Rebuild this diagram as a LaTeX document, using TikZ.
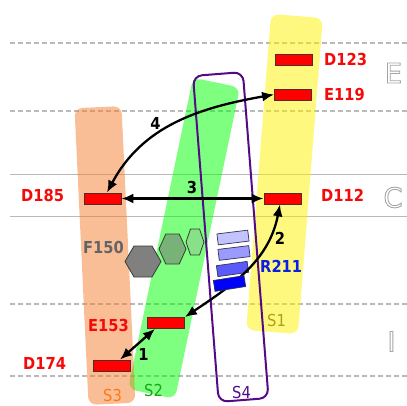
\documentclass[tikz,border=0pt]{standalone}
\usepackage{fontspec}
\setmainfont{DejaVu Sans}[FakeStretch=0.89]
\newfontfamily\bigfont{DejaVu Sans}
\usetikzlibrary{arrows.meta}
\definecolor{resred}{RGB}{255,0,0}
\definecolor{resdraw}{RGB}{90,40,40}
\definecolor{labred}{RGB}{245,10,10}
\definecolor{gridgray}{RGB}{185,185,185}
\definecolor{lettergray}{RGB}{165,165,165}
\definecolor{bandorange}{RGB}{245,125,45}
\definecolor{s1col}{RGB}{175,160,20}
\definecolor{s2col}{RGB}{25,165,25}
\definecolor{s3col}{RGB}{255,120,20}
\definecolor{s4col}{RGB}{85,10,135}
\definecolor{fcol}{RGB}{100,100,100}
\definecolor{rcol}{RGB}{10,30,230}
\definecolor{hexa}{RGB}{128,128,128}
\definecolor{hexb}{RGB}{120,178,120}
\definecolor{hexc}{RGB}{135,225,135}
\definecolor{hexdraw}{RGB}{55,60,55}
\definecolor{bluea}{RGB}{195,195,255}
\definecolor{blueb}{RGB}{155,155,255}
\definecolor{bluec}{RGB}{90,90,250}
\definecolor{blued}{RGB}{0,0,255}
\definecolor{bluedraw}{RGB}{50,50,80}
\newcommand\outlinetext[1]{\special{pdf:literal direct 1 Tr 0.9 w}#1\special{pdf:literal direct 0 Tr}}
\begin{document}
\begin{tikzpicture}[x=1pt,y=1pt,
  resbox/.style={draw=resdraw, fill=resred, line width=0.8pt, minimum width=37pt, minimum height=11pt, inner sep=0pt},
  lab/.style={font=\fontsize{16.5}{18}\selectfont\bfseries, anchor=west, inner sep=0pt},
  slab/.style={font=\fontsize{16.5}{18}\selectfont, anchor=west, inner sep=0pt},
  numlab/.style={font=\fontsize{16.5}{18}\selectfont\bfseries, inner sep=0pt, text=black},
  biglet/.style={font=\bigfont\fontsize{27.5}{30}\selectfont, inner sep=0pt, text=lettergray},
  dashline/.style={draw=gridgray, line width=1.2pt, dash pattern=on 5pt off 3pt},
  solidline/.style={draw=gridgray, line width=1pt},
  conn/.style={line width=2.3pt, {Latex[length=12pt,width=10pt]}-{Latex[length=12pt,width=10pt]}},
  bluebox/.style={draw=bluedraw, line width=0.7pt, minimum width=31pt, minimum height=11pt, inner sep=0pt},
  hexbox/.style={draw=hexdraw, line width=0.8pt}]
\useasboundingbox (0,0) rectangle (407,405);
% grid lines
\draw[dashline] (10,362) -- (407,362);
\draw[dashline] (10,294) -- (407,294);
\draw[dashline] (10,101) -- (407,101);
\draw[dashline] (10,29) -- (407,29);
\draw[solidline] (10,230) -- (407,230);
\draw[solidline] (10,189) -- (407,189);
% bands
\fill[green, opacity=0.5, rounded corners=8pt, rotate around={-11.8:(184,166.75)}] (160,7.75) rectangle (208,325.75);
\fill[yellow, opacity=0.5, rounded corners=8pt, rotate around={-4.5:(284.5,231)}] (258.5,72.5) rectangle (310.5,389.5);
\fill[bandorange, opacity=0.5, rounded corners=8pt, rotate around={2.7:(105,149.5)}] (81.5,1) rectangle (128.5,298);
\draw[s4col, line width=2pt, rounded corners=9pt, rotate around={4.5:(230.75,168)}] (205.75,4.5) rectangle (255.75,331.5);
% hexagons
\draw[hexbox, fill=hexa] (125,143.5) -- (134,159) -- (152,159) -- (161,143.5) -- (152,128) -- (134,128) -- cycle;
\draw[hexbox, fill=hexb] (159,156) -- (165.75,171) -- (179.25,171) -- (186,156) -- (179.25,141) -- (165.75,141) -- cycle;
\draw[hexbox, fill=hexc] (186,163) -- (190.5,176) -- (199.5,176) -- (204,163) -- (199.5,150) -- (190.5,150) -- cycle;
% blue boxes
\node[bluebox, fill=bluea, rotate=7] (ba) at (233,167.5) {};
\node[bluebox, fill=blueb, rotate=7] (bb) at (234,152) {};
\node[bluebox, fill=bluec, rotate=8] (bc) at (232.5,136) {};
% residues
\node[resbox] (d123) at (294,345.5) {};
\node[resbox] (e119) at (293,310.5) {};
\node[resbox] (d185) at (102.5,206.5) {};
\node[resbox] (d112) at (282.5,206.5) {};
\node[resbox] (e153) at (166,82) {};
\node[resbox] (d174) at (111.5,39.5) {};
% connectors
\draw[conn] ([xshift=4.5pt]d185.north) to[out=62,in=190] (e119.west);
\draw[conn] (d185.east) -- (d112.west);
\draw[conn] (e153.north east) to[out=34,in=259] ([xshift=-2.5pt]d112.south);
\draw[conn] ([xshift=8.5pt]d174.north) -- ([xshift=-11pt]e153.south);
\node[bluebox, fill=blued, rotate=9] (bd) at (229.5,121.5) {};
% labels
\node[lab, text=labred] (td123) at (324,346) {D123};
\node[lab, text=labred] (te119) at (324,310) {E119};
\node[lab, text=labred] (td185) at (21,210) {D185};
\node[lab, text=labred] (td112) at (321,210) {D112};
\node[lab, text=labred] (te153) at (88,80) {E153};
\node[lab, text=labred] (td174) at (23,42) {D174};
\node[lab, text=fcol] (tf150) at (83,158) {F150};
\node[lab, text=rcol] (tr211) at (260,139) {R211};
\node[slab, text=s1col] (ts1) at (267,85) {S1};
\node[slab, text=s2col] (ts2) at (144,15) {S2};
\node[slab, text=s3col] (ts3) at (103,10) {S3};
\node[slab, text=s4col] (ts4) at (232,13) {S4};
\node[numlab] (n1) at (143.5,51) {1};
\node[numlab] (n2) at (280,167) {2};
\node[numlab] (n3) at (192,218) {3};
\node[numlab] (n4) at (155.5,282) {4};
% outline letters
\node[biglet] (le) at (393.5,332) {\outlinetext{E}};
\node[biglet] (lc) at (393,207.5) {\outlinetext{C}};
\node[biglet] (li) at (391.5,63.5) {\outlinetext{I}};
\end{tikzpicture}
\end{document}
